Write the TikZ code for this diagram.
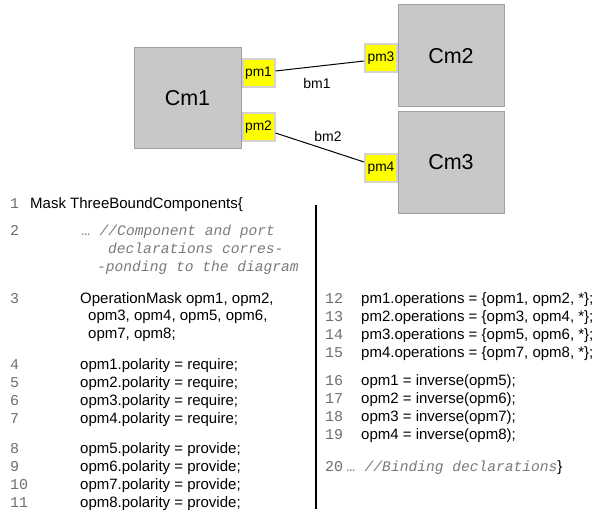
\documentclass[tikz,border=0pt]{standalone}
\usepackage{fontspec}
\setmainfont{Liberation Sans}
\newfontfamily\codemono{Liberation Mono}
\definecolor{compfill}{HTML}{C8C8C8}
\definecolor{compborder}{HTML}{A0A0A0}
\definecolor{portfill}{HTML}{FFFF00}
\definecolor{portborder}{HTML}{D2D2D2}
\definecolor{numgray}{HTML}{6E6E6E}
\definecolor{cmtgray}{HTML}{7A7A7A}
\begin{document}
\begin{tikzpicture}[x=1pt,y=-1pt,
  comp/.style={draw=compborder, fill=compfill, line width=1pt, inner sep=0pt,
    font=\fontsize{21.5}{25}\selectfont},
  port/.style={draw=portborder, fill=portfill, line width=2pt, inner sep=0pt,
    minimum width=32pt, minimum height=28pt, font=\fontsize{13.8}{16}\selectfont},
  bind/.style={draw=black, line width=1pt},
  blabel/.style={font=\fontsize{14}{16}\selectfont, inner sep=0pt},
  num/.style={anchor=base west, inner sep=0pt, text=numgray, font=\codemono\fontsize{15}{17}\selectfont},
  code/.style={anchor=base west, inner sep=0pt, font=\fontsize{15}{17}\selectfont},
  cmt/.style={anchor=base west, inner sep=0pt, text=cmtgray, font=\codemono\itshape\fontsize{14.6}{17}\selectfont},
  sep/.style={draw=black, line width=1.5pt}]
\useasboundingbox (0,0) rectangle (592,516);

% components
\node[comp, minimum width=107pt, minimum height=101pt] (cm1) at (187.5,98.5) {Cm1};
\node[comp, minimum width=106pt, minimum height=102pt] (cm2) at (451,56) {Cm2};
\node[comp, minimum width=106pt, minimum height=101pt] (cm3) at (451,162.5) {Cm3};

% ports
\node[port] (pm1) at (258.5,73.5) {pm1};
\node[port] (pm2) at (258.5,127.5) {pm2};
\node[port] (pm3) at (381,58.5) {pm3};
\node[port] (pm4) at (381,168) {pm4};

% bindings
\draw[bind] ([yshift=2.5pt]pm1.east) -- ([yshift=-2.5pt]pm3.west);
\draw[bind] ([yshift=-5.5pt]pm2.east) -- ([yshift=6pt]pm4.west);
\node[blabel] (bm1) at (317,83) {bm1};
\node[blabel] (bm2) at (328,136) {bm2};

% separator
\coordinate (septop) at (316,205);
\coordinate (sepbot) at (316,509);
\draw[sep] (septop) -- (sepbot);

% left column
\node[num] (n1) at (10,208) {1};
\node[code] (c1) at (30,208) {Mask ThreeBoundComponents\{};

\node[num] (n2) at (10,235) {2};
\node[cmt] (c2a) at (82,235) {… //Component and port};
\node[cmt] (c2b) at (108,253) {declarations corres-};
\node[cmt] (c2c) at (97,271) {-ponding to the diagram};

\node[num] (n3) at (10,303) {3};
\node[code] (c3a) at (80,303) {OperationMask opm1, opm2,};
\node[code] (c3b) at (88,320) {opm3, opm4, opm5, opm6,};
\node[code] (c3c) at (88,338) {opm7, opm8;};

\node[num] (n4) at (10,369) {4};
\node[code] (c4) at (80,369) {opm1.polarity = require;};
\node[num] (n5) at (10,387) {5};
\node[code] (c5) at (80,387) {opm2.polarity = require;};
\node[num] (n6) at (10,405) {6};
\node[code] (c6) at (80,405) {opm3.polarity = require;};
\node[num] (n7) at (10,423) {7};
\node[code] (c7) at (80,423) {opm4.polarity = require;};

\node[num] (n8) at (10,453) {8};
\node[code] (c8) at (80,453) {opm5.polarity = provide;};
\node[num] (n9) at (10,471) {9};
\node[code] (c9) at (80,471) {opm6.polarity = provide;};
\node[num] (n10) at (10,489) {10};
\node[code] (c10) at (80,489) {opm7.polarity = provide;};
\node[num] (n11) at (10,507) {11};
\node[code] (c11) at (80,507) {opm8.polarity = provide;};

% right column
\node[num] (n12) at (325,303) {12};
\node[code] (c12) at (361,303) {pm1.operations = \{opm1, opm2, *\};};
\node[num] (n13) at (325,321) {13};
\node[code] (c13) at (361,321) {pm2.operations = \{opm3, opm4, *\};};
\node[num] (n14) at (325,339) {14};
\node[code] (c14) at (361,339) {pm3.operations = \{opm5, opm6, *\};};
\node[num] (n15) at (325,357) {15};
\node[code] (c15) at (361,357) {pm4.operations = \{opm7, opm8, *\};};

\node[num] (n16) at (325,385) {16};
\node[code] (c16) at (361,385) {opm1 = inverse(opm5);};
\node[num] (n17) at (325,403) {17};
\node[code] (c17) at (361,403) {opm2 = inverse(opm6);};
\node[num] (n18) at (325,421) {18};
\node[code] (c18) at (361,421) {opm3 = inverse(opm7);};
\node[num] (n19) at (325,439) {19};
\node[code] (c19) at (361,439) {opm4 = inverse(opm8);};

\node[num] (n20) at (325,471) {20};
\node[cmt] (c20) at (347,471) {… //Binding declarations{\color{black}\normalfont\fontsize{15}{17}\selectfont\}}};
\end{tikzpicture}
\end{document}
